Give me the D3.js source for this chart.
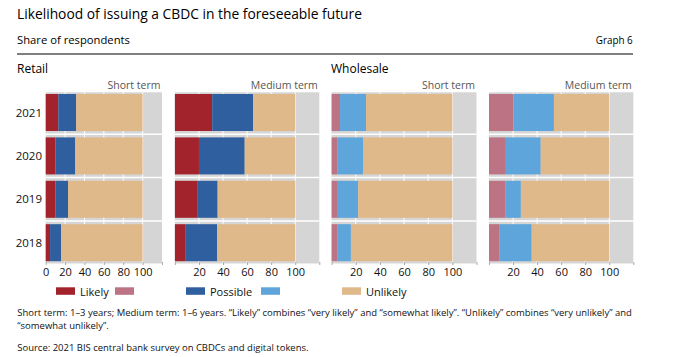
<!DOCTYPE html>
<html>
<head>
<meta charset="utf-8">
<script src="https://cdn.jsdelivr.net/npm/d3@7"></script>
<style>
  html, body { margin: 0; padding: 0; background: #fff; }
  svg { display: block; font-family: "Open Sans", "Noto Sans", sans-serif; }
</style>
</head>
<body>
<svg id="chart" width="674" height="357"></svg>
<script>
// ---------- data ----------
const years = ["2021", "2020", "2019", "2018"];
const seriesNames = ["Likely", "Possible", "Unlikely"];

const retailShortLikely   = [13, 10, 10, 4.5];
const retailShortPossible = [18.5, 20.5, 13, 11.5];
const retailMediumLikely   = [31, 20, 19, 9];
const retailMediumPossible = [34, 38, 16.5, 26];
const wholesaleShortLikely   = [7, 5, 4.5, 5];
const wholesaleShortPossible = [21.5, 21, 17.5, 11];
const wholesaleMediumLikely   = [20.5, 14, 13.5, 8.5];
const wholesaleMediumPossible = [33.5, 29, 13, 27];

const xTicks = [0, 20, 40, 60, 80, 100, 120];
const panelTitles = ["Short term", "Medium term", "Short term", "Medium term"];
const groupTitles = ["Retail", "Wholesale"];

const colors = {
  retailLikely: "#A3232C", retailPossible: "#2F5F9E",
  wholesaleLikely: "#BC7383", wholesalePossible: "#5DA5DA",
  unlikely: "#E0B98B", bg: "#D5D5D5"
};

// ---------- layout ----------
const svg = d3.select("#chart");
const font = '"Open Sans", "Noto Sans", sans-serif';

function fitText(sel, target) {
  const node = sel.node();
  const w = node.getComputedTextLength();
  const fs = parseFloat(sel.attr("font-size"));
  sel.attr("font-size", (fs * target / w).toFixed(2));
}

// Header
const title = svg.append("text").attr("x", 17).attr("y", 19)
  .attr("font-size", 14).attr("fill", "#000")
  .text("Likelihood of issuing a CBDC in the foreseeable future");
fitText(title, 345);
const sub = svg.append("text").attr("x", 17).attr("y", 44.3)
  .attr("font-size", 11.5).attr("fill", "#000").text("Share of respondents");
fitText(sub, 113);
const g6 = svg.append("text").attr("x", 632.7).attr("y", 44.3)
  .attr("font-size", 11.5).attr("text-anchor", "end").attr("fill", "#000").text("Graph 6");
fitText(g6, 37);
svg.append("line").attr("x1", 17).attr("x2", 633).attr("y1", 54).attr("y2", 54)
  .attr("stroke", "#000").attr("stroke-width", 1.2);

// Group titles
[[17, groupTitles[0]], [331, groupTitles[1]]].forEach(([x, t]) => {
  svg.append("text").attr("x", x).attr("y", 72.7).attr("font-size", 12)
    .attr("fill", "#000").text(t);
});

const y = d3.scaleBand().domain(years).range([90.8, 264.4])
  .paddingInner(0.147).paddingOuter(0.0735);
const plotTop = 92.3, plotBottom = 263.5;

const panels = [
  { x0: 45.7, x1: 162,   likely: retailShortLikely,   possible: retailShortPossible,
    cL: colors.retailLikely, cP: colors.retailPossible, title: panelTitles[0], zeroLabel: true },
  { x0: 174.9, x1: 319.3, likely: retailMediumLikely,  possible: retailMediumPossible,
    cL: colors.retailLikely, cP: colors.retailPossible, title: panelTitles[1], zeroLabel: false },
  { x0: 331.6, x1: 476.5, likely: wholesaleShortLikely, possible: wholesaleShortPossible,
    cL: colors.wholesaleLikely, cP: colors.wholesalePossible, title: panelTitles[2], zeroLabel: false },
  { x0: 489,  x1: 633.3, likely: wholesaleMediumLikely, possible: wholesaleMediumPossible,
    cL: colors.wholesaleLikely, cP: colors.wholesalePossible, title: panelTitles[3], zeroLabel: false }
];

panels.forEach((p, pi) => {
  const x = d3.scaleLinear().domain([0, 120]).range([p.x0, p.x1]);
  const g = svg.append("g");
  // background
  g.append("rect").attr("x", x(0)).attr("y", plotTop)
    .attr("width", x(120) - x(0)).attr("height", plotBottom - plotTop)
    .attr("fill", colors.bg);
  // vertical gridlines
  g.selectAll("line.vg").data([20, 40, 60, 80, 100]).join("line")
    .attr("x1", d => x(d)).attr("x2", d => x(d))
    .attr("y1", plotTop).attr("y2", plotBottom)
    .attr("stroke", "#fff").attr("stroke-width", 1);
  // horizontal separators
  const step = y.step();
  g.selectAll("line.hg").data(years.slice(1)).join("line")
    .attr("x1", x(0)).attr("x2", x(120))
    .attr("y1", d => y(d) - step * y.paddingInner() / 2)
    .attr("y2", d => y(d) - step * y.paddingInner() / 2)
    .attr("stroke", "#fff").attr("stroke-width", 1.5);

  // stacked bars
  const rows = years.map((yr, i) => ({
    year: yr, Likely: p.likely[i], Possible: p.possible[i],
    Unlikely: 100 - p.likely[i] - p.possible[i]
  }));
  const stack = d3.stack().keys(seriesNames)(rows);
  const fills = { Likely: p.cL, Possible: p.cP, Unlikely: colors.unlikely };
  stack.forEach(s => {
    g.selectAll(null).data(s).join("rect")
      .attr("x", d => x(d[0]))
      .attr("width", d => x(d[1]) - x(d[0]))
      .attr("y", d => y(d.data.year))
      .attr("height", y.bandwidth())
      .attr("fill", fills[s.key]);
  });

  // axis
  const axis = d3.axisBottom(x).tickValues(xTicks).tickSize(3).tickPadding(3)
    .tickFormat(d => (d === 120 || (d === 0 && !p.zeroLabel)) ? "" : d);
  const ax = g.append("g").attr("transform", `translate(0,${plotBottom - 1.5})`).call(axis);
  ax.select(".domain").remove();
  ax.selectAll(".tick line").attr("stroke", "#aaa");
  ax.selectAll(".tick text").attr("font-family", font).attr("font-size", 11)
    .attr("fill", "#111").attr("dy", "0.71em");

  // panel title
  g.append("text").attr("x", x(120) - 1.5).attr("y", 89)
    .attr("text-anchor", "end").attr("font-size", 10.5).attr("fill", "#555")
    .text(p.title);

  // year labels
  if (pi === 0) {
    g.selectAll("text.yr").data(years).join("text")
      .attr("x", 42).attr("y", d => y(d) + y.bandwidth() / 2)
      .attr("dy", "0.35em").attr("text-anchor", "end")
      .attr("font-size", 11.5).attr("fill", "#111").text(d => d);
  }
});

// ---------- legend ----------
const legendItems = [
  { x: 56,  c: colors.retailLikely, label: seriesNames[0] },
  { x: 115, c: colors.wholesaleLikely, label: "" },
  { x: 186, c: colors.retailPossible, label: seriesNames[1] },
  { x: 261, c: colors.wholesalePossible, label: "" },
  { x: 342, c: colors.unlikely, label: seriesNames[2] }
];
const lg = svg.append("g");
legendItems.forEach(it => {
  lg.append("rect").attr("x", it.x).attr("y", 287.3).attr("width", 19).attr("height", 7.5)
    .attr("fill", it.c);
  if (it.label) {
    lg.append("text").attr("x", it.x + 24).attr("y", 296).attr("font-size", 11)
      .attr("fill", "#111").text(it.label);
  }
});

// ---------- footnotes ----------
const f1 = svg.append("text").attr("x", 17.3).attr("y", 315.7).attr("font-size", 10)
  .attr("fill", "#111")
  .text("Short term: 1–3 years; Medium term: 1–6 years. “Likely” combines “very likely” and “somewhat likely”. “Unlikely” combines “very unlikely” and");
fitText(f1, 615);
const fs1 = f1.attr("font-size");
svg.append("text").attr("x", 17.3).attr("y", 329.3).attr("font-size", fs1)
  .attr("fill", "#111").text("“somewhat unlikely”.");
svg.append("text").attr("x", 17.3).attr("y", 351).attr("font-size", fs1)
  .attr("fill", "#111").text("Source: 2021 BIS central bank survey on CBDCs and digital tokens.");
</script>
</body>
</html>
